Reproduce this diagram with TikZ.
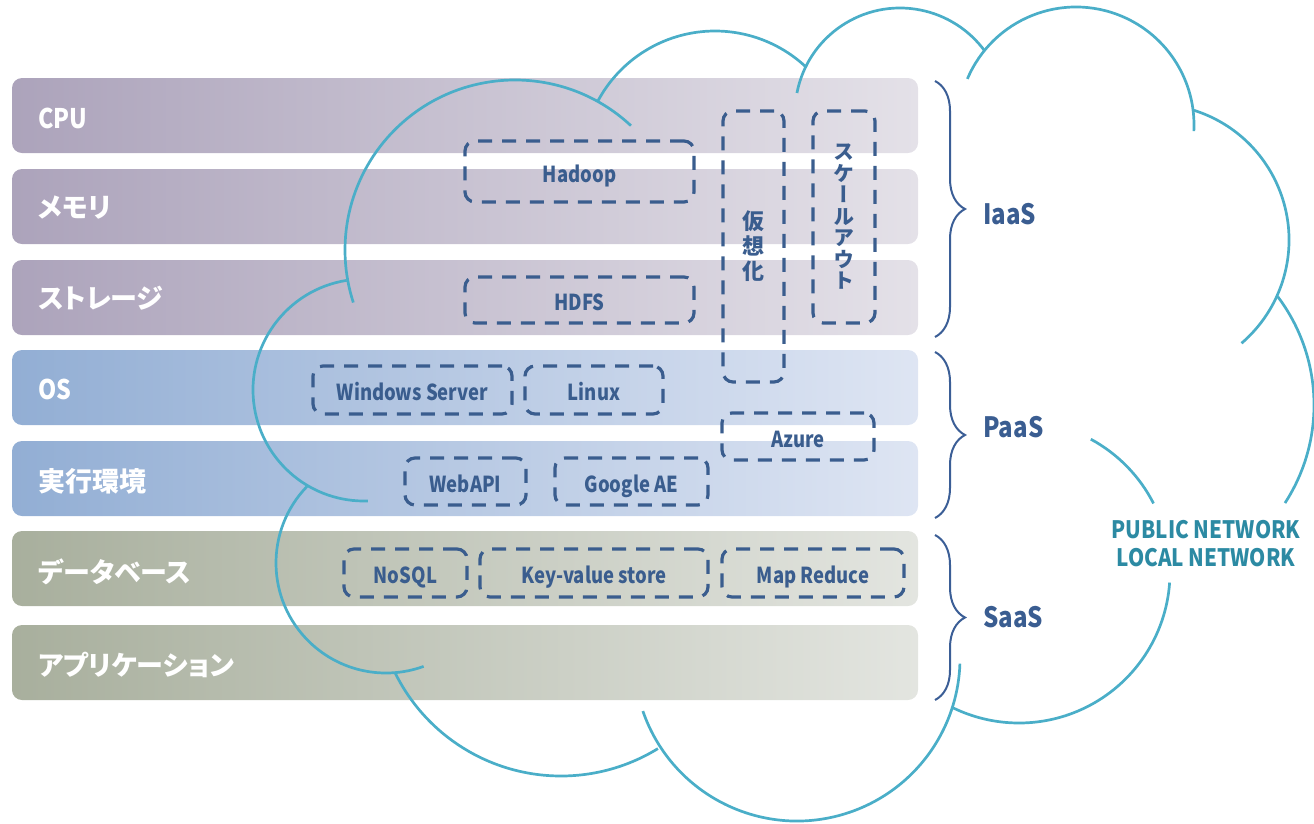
\documentclass[tikz,border=0pt]{standalone}
\usepackage{fontspec}
\usetikzlibrary{decorations.pathreplacing}
\setmainfont{Noto Sans CJK JP}
\newfontfamily\jpfont{Noto Sans CJK JP}[RawFeature=+palt]
\newfontfamily\latfont{Noto Sans CJK JP}[FakeStretch=0.86]
\newfontfamily\boxfont{Noto Sans CJK JP}[FakeStretch=0.84]
\newfontfamily\vertfont{Noto Sans CJK JP}[RawFeature=+vert]

\definecolor{iaasL}{HTML}{ACA3BB}
\definecolor{iaasR}{HTML}{E4E1E8}
\definecolor{paasL}{HTML}{92AED4}
\definecolor{paasR}{HTML}{DEE5F3}
\definecolor{saasL}{HTML}{A8AF9D}
\definecolor{saasR}{HTML}{E3E5E0}
\definecolor{cloudc}{HTML}{4AAEC8}
\definecolor{boxc}{HTML}{3A5D8E}
\definecolor{bracec}{HTML}{3B5E96}
\definecolor{svcc}{HTML}{3A5D91}
\definecolor{netc}{HTML}{2C8AA3}

\begin{document}
\begin{tikzpicture}[x=1pt,y=-1pt,
  bar/.style={rounded corners=10pt},
  barlabel/.style={anchor=west, inner sep=0pt, text=white,
    font=\jpfont\bfseries\fontsize{27}{30}\selectfont},
  cloudline/.style={draw=cloudc, line width=2.7pt},
  dbox/.style={draw=boxc, line width=3.2pt, dash pattern=on 14pt off 10pt,
    rounded corners=10pt, inner sep=0pt, text=boxc},
  boxtext/.style={dbox, text height=21pt, text depth=0pt,
    font=\boxfont\bfseries\fontsize{22}{24}\selectfont},
  brc/.style={draw=bracec, line width=2pt, decorate,
    decoration={brace, amplitude=30pt}},
  svclabel/.style={anchor=west, inner sep=0pt, text=svcc,
    font=\latfont\bfseries\fontsize{28}{30}\selectfont},
  netlabel/.style={align=center, inner sep=0pt, text=netc,
    font=\latfont\bfseries\fontsize{24}{28}\selectfont}
]
\useasboundingbox (0,0) rectangle (1314,823);

% layer bars
\shade[bar, left color=iaasL, right color=iaasR] (12,78) rectangle (918,153);
\shade[bar, left color=iaasL, right color=iaasR] (12,169) rectangle (918,244);
\shade[bar, left color=iaasL, right color=iaasR] (12,260) rectangle (918,335);
\shade[bar, left color=paasL, right color=paasR] (12,350) rectangle (918,425);
\shade[bar, left color=paasL, right color=paasR] (12,441) rectangle (918,516);
\shade[bar, left color=saasL, right color=saasR] (12,531) rectangle (918,606);
\shade[bar, left color=saasL, right color=saasR] (12,625) rectangle (918,700);

\node[barlabel] (cpu) at (38,118) {\latfont CPU};
\node[barlabel] (mem) at (38,208) {メモリ};
\node[barlabel] (sto) at (38,298) {ストレージ};
\node[barlabel] (os) at (38,389) {\latfont OS};
\node[barlabel] (rt) at (38,481) {実行環境};
\node[barlabel] (db) at (38,572) {データベース};
\node[barlabel] (app) at (38,665) {アプリケーション};

% cloud outline, one arc per lobe
\draw[cloudline] (515,250) ++(-47:170) arc[start angle=-47, end angle=-198, radius=170];
\draw[cloudline] (364,390) ++(261:111) arc[start angle=261, end angle=88, radius=111];
\draw[cloudline] (386,563) ++(224:110) arc[start angle=224, end angle=70, radius=110];
\draw[cloudline] (561,591) ++(153.6:185) arc[start angle=153.6, end angle=58.4, radius=185];
\draw[cloudline] (797,658) ++(161:163) arc[start angle=161, end angle=2, radius=163];
\draw[cloudline] (1019,572) ++(-61.6:151) arc[start angle=-61.6, end angle=-27, radius=151];
\draw[cloudline] (1019,572) ++(4:151) arc[start angle=4, end angle=116, radius=151];
\draw[cloudline] (1134,405) ++(-37:180) arc[start angle=-37, end angle=33, radius=180];
\draw[cloudline] (1153,240) ++(-72.5:136) arc[start angle=-72.5, end angle=49.4, radius=136];
\draw[cloudline] (1076,125) ++(-157:118) arc[start angle=-157, end angle=3, radius=118];
\draw[cloudline] (900,113) ++(-169:105) arc[start angle=-169, end angle=-36, radius=105];
\draw[cloudline] (715,164) ++(-152:133) arc[start angle=-152, end angle=-46.6, radius=133];

% service braces
\draw[brc] (935,81) -- (935,337);
\draw[brc] (935,352) -- (935,518);
\draw[brc] (935,535) -- (935,700);
\node[svclabel] (iaas) at (983,214.5) {IaaS};
\node[svclabel] (paas) at (983,427) {PaaS};
\node[svclabel] (saas) at (983,617) {SaaS};

% technology boxes
\node[boxtext, minimum width=229pt, minimum height=61pt] (hadoop) at (579.5,171.5) {Hadoop};
\node[boxtext, minimum width=229pt, minimum height=46pt] (hdfs) at (579.5,300) {HDFS};
\node[dbox, minimum width=61pt, minimum height=271pt, align=center,
  font=\jpfont\bfseries\fontsize{22}{25}\selectfont] (virt) at (753.5,246.5) {仮\\想\\化};
\node[dbox, minimum width=62pt, minimum height=212pt, align=center,
  font=\vertfont\bfseries\fontsize{21}{21.5}\selectfont] (scale) at (844,217) {ス\\ケ\\ー\\ル\\ア\\ウ\\ト};
\node[boxtext, minimum width=199pt, minimum height=48pt] (win) at (412.5,390) {Windows Server};
\node[boxtext, minimum width=138pt, minimum height=48pt] (linux) at (594,390) {Linux};
\node[boxtext, minimum width=152pt, minimum height=47pt] (azure) at (798,436.5) {Azure};
\node[boxtext, minimum width=121pt, minimum height=47pt] (webapi) at (465.5,481.5) {WebAPI};
\node[boxtext, minimum width=153pt, minimum height=47pt] (gae) at (631.5,481.5) {Google AE};
\node[boxtext, minimum width=123pt, minimum height=48pt] (nosql) at (405.5,573) {NoSQL};
\node[boxtext, minimum width=228pt, minimum height=48pt] (kvs) at (594,573) {Key-value store};
\node[boxtext, minimum width=182pt, minimum height=48pt] (mapred) at (813,573) {Map Reduce};

% network caption
\node[netlabel] (net) at (1206,544) {PUBLIC NETWORK\\LOCAL NETWORK};
\end{tikzpicture}
\end{document}
